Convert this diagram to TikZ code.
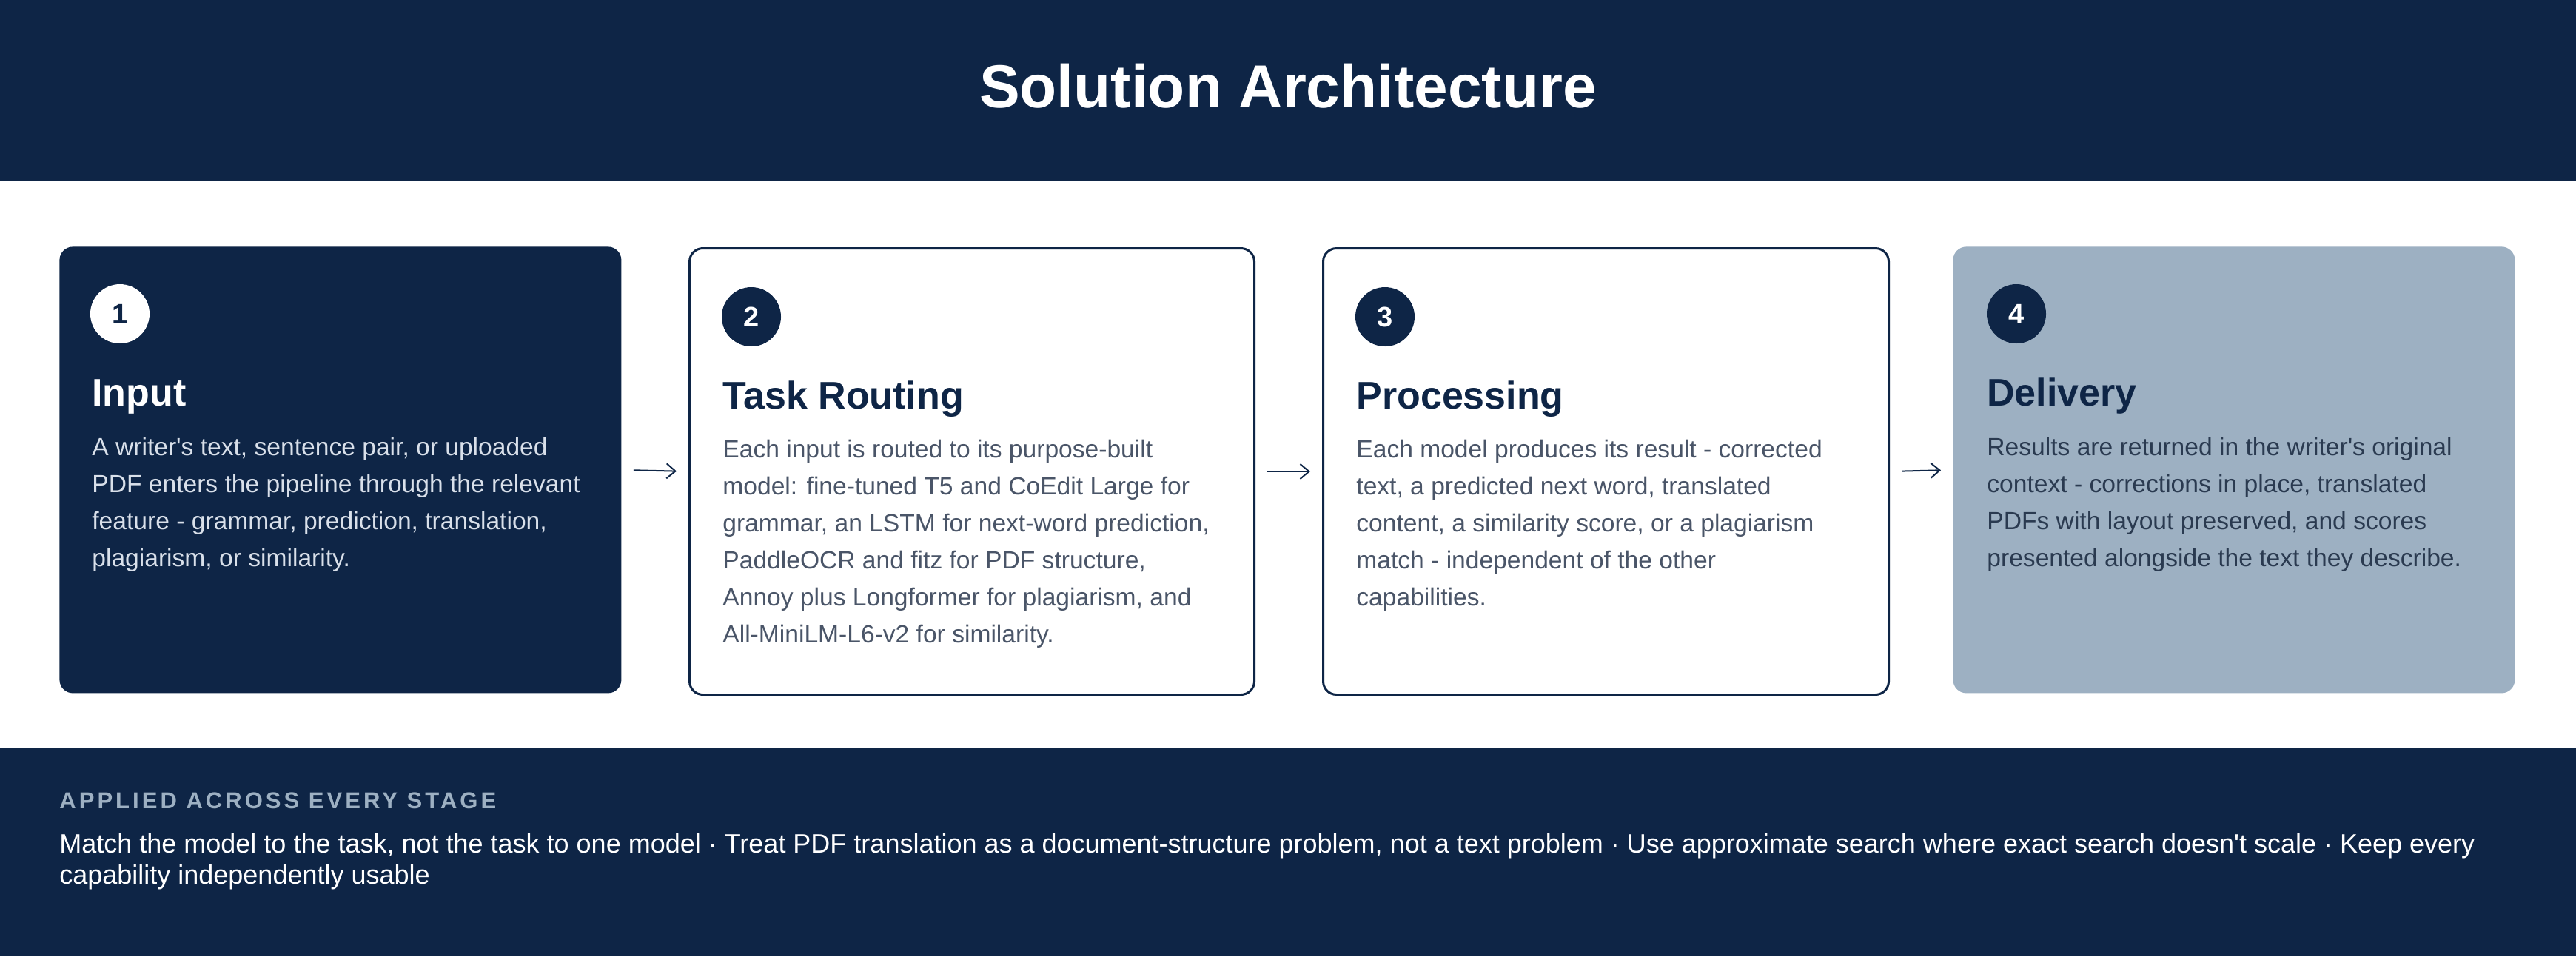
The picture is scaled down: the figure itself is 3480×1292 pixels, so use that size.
\documentclass[tikz,border=0pt]{standalone}
\usepackage{fontspec}
\setmainfont{Liberation Sans}[Ligatures=TeXOff]
\usetikzlibrary{arrows.meta}
\definecolor{navy}{HTML}{0E2546}
\definecolor{slate}{HTML}{9DB0C2}
\definecolor{bodygray}{HTML}{4A5568}
\definecolor{lightbody}{HTML}{D9E0EA}
\definecolor{darkbody}{HTML}{2A3A50}
\begin{document}
\begin{tikzpicture}[x=0.5pt,y=-0.5pt,
  card/.style={rounded corners=9pt, minimum width=#1, minimum height=301.5pt, inner sep=0pt, anchor=north west},
  num/.style={circle, minimum size=40pt, inner sep=0pt, font=\fontsize{19}{19}\selectfont\bfseries},
  ttl/.style={anchor=base west, inner sep=0pt, font=\fontsize{26}{26}\selectfont\bfseries},
  body/.style={anchor=north west, inner sep=0pt, align=left, font=\fontsize{16.8}{25}\selectfont},
  flow/.style={-{Straight Barb[length=6pt,width=10pt]}, navy, line width=1pt, shorten <=8pt, shorten >=8pt}]
\useasboundingbox (0,0) rectangle (3480,1292);
\fill[white] (0,0) rectangle (3480,1292);
% header
\fill[navy] (0,0) rectangle (3480,244);
\node[font=\fontsize{41}{41}\selectfont\bfseries, text=white, anchor=base] (title) at (1740,145) {Solution Architecture};
% cards
\node[card=379.5pt, fill=navy] (c1) at (80,333) {};
\node[card=381.5pt, fill=white, draw=navy, line width=1.5pt] (c2) at (930,334) {};
\node[card=382pt, fill=white, draw=navy, line width=1.5pt] (c3) at (1786,334) {};
\node[card=379.5pt, fill=slate] (c4) at (2638,333) {};
% numbers
\node[num, fill=white, text=navy] (n1) at (162,424) {1};
\node[num, fill=navy, text=white] (n2) at (1015,428) {2};
\node[num, fill=navy, text=white] (n3) at (1871,428) {3};
\node[num, fill=navy, text=white] (n4) at (2724,424) {4};
% titles
\node[ttl, text=white] (t1) at (124,548) {Input};
\node[ttl, text=navy] (t2) at (976,552) {Task Routing};
\node[ttl, text=navy] (t3) at (1832,552) {Processing};
\node[ttl, text=navy] (t4) at (2684,548) {Delivery};
% bodies
\node[body, text=lightbody] (b1) at (124,591) {A writer's text, sentence pair, or uploaded\\PDF enters the pipeline through the relevant\\feature - grammar, prediction, translation,\\plagiarism, or similarity.};
\node[body, text=bodygray] (b2) at (976,594) {Each input is routed to its purpose-built\\model: fine-tuned T5 and CoEdit Large for\\grammar, an LSTM for next-word prediction,\\PaddleOCR and fitz for PDF structure,\\Annoy plus Longformer for plagiarism, and\\All-MiniLM-L6-v2 for similarity.};
\node[body, text=bodygray] (b3) at (1832,594) {Each model produces its result - corrected\\text, a predicted next word, translated\\content, a similarity score, or a plagiarism\\match - independent of the other\\capabilities.};
\node[body, text=darkbody] (b4) at (2684,591) {Results are returned in the writer's original\\context - corrections in place, translated\\PDFs with layout preserved, and scores\\presented alongside the text they describe.};
% arrows
\draw[flow] (c1.east) -- (c2.west);
\draw[flow] (c2.east) -- (c3.west);
\draw[flow] (c3.east) -- (c4.west);
% footer
\fill[navy] (0,1010) rectangle (3480,1292);
\node[anchor=base west, inner sep=0pt, text=slate, font=\fontsize{15.5}{15.5}\selectfont\bfseries\addfontfeatures{LetterSpace=13}] (lab) at (80,1092) {APPLIED ACROSS EVERY STAGE};
\node[anchor=north west, inner sep=0pt, align=left, text=white, font=\fontsize{18}{21}\selectfont] (prin) at (80,1126) {Match the model to the task, not the task to one model · Treat PDF translation as a document-structure problem, not a text problem · Use approximate search where exact search doesn't scale · Keep every\\capability independently usable};
\end{tikzpicture}
\end{document}
